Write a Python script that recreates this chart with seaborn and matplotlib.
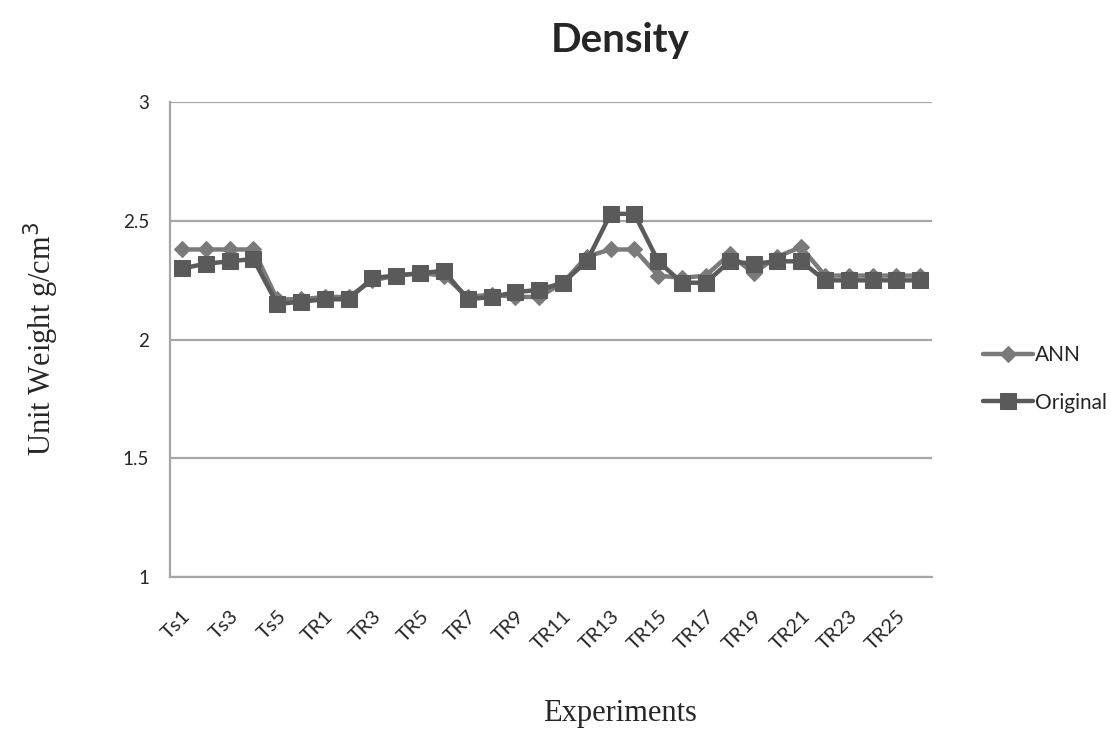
import matplotlib
matplotlib.use("Agg")
import matplotlib.pyplot as plt
import seaborn as sns
import pandas as pd

experiments = ["Ts1", "Ts2", "Ts3", "Ts4", "Ts5", "Ts6"] + [f"TR{i}" for i in range(1, 27)]
ann = [2.38, 2.38, 2.38, 2.38, 2.17, 2.17, 2.18, 2.18, 2.25, 2.27, 2.28, 2.27,
       2.18, 2.19, 2.18, 2.18, 2.24, 2.35, 2.38, 2.38, 2.27, 2.26, 2.27, 2.36,
       2.28, 2.35, 2.39, 2.27, 2.27, 2.27, 2.27, 2.27]
original = [2.30, 2.32, 2.33, 2.34, 2.15, 2.16, 2.17, 2.17, 2.26, 2.27, 2.28, 2.29,
            2.17, 2.18, 2.20, 2.21, 2.24, 2.33, 2.53, 2.53, 2.33, 2.24, 2.24, 2.33,
            2.32, 2.33, 2.33, 2.25, 2.25, 2.25, 2.25, 2.25]
series_names = ["ANN", "Original"]
y_ticks = [1, 1.5, 2, 2.5, 3]
y_tick_labels = ["1", "1.5", "2", "2.5", "3"]

df = pd.DataFrame({
    "Experiment": experiments * 2,
    "pos": list(range(len(experiments))) * 2,
    "Value": ann + original,
    "Series": [series_names[0]] * len(ann) + [series_names[1]] * len(original),
})

sns.set_style("white")
plt.rcParams["font.family"] = ["Lato", "DejaVu Sans"]

fig = plt.figure(figsize=(11.11, 7.36), dpi=100)
ax = fig.add_axes([0.153, 0.216, 0.686, 0.645])

palette = {"ANN": "#7a7a7a", "Original": "#5a5a5a"}
markers = {"ANN": "D", "Original": "s"}
sizes_ms = {"ANN": 8, "Original": 12}

for name in series_names:
    sub = df[df["Series"] == name]
    sns.lineplot(data=sub, x="pos", y="Value", ax=ax, color=palette[name],
                 marker=markers[name], markersize=sizes_ms[name],
                 markeredgecolor=palette[name], linewidth=3.2, label=name,
                 legend=False)

ax.set_xlim(-0.5, len(experiments) - 0.5)
ax.set_ylim(1, 3)
ax.set_yticks(y_ticks)
ax.set_yticklabels(y_tick_labels, fontsize=13.5)
ax.yaxis.grid(True, color="#a6a6a6", linewidth=1.6)
ax.xaxis.grid(False)
tick_pos = list(range(0, len(experiments), 2))
ax.set_xticks(tick_pos)
ax.set_xticklabels([experiments[i] for i in tick_pos], rotation=45, ha="right",
                   rotation_mode="anchor", fontsize=14.5)
ax.tick_params(axis="x", length=0, pad=22)
ax.tick_params(axis="y", length=0, pad=15)
for s in ["top", "right"]:
    ax.spines[s].set_visible(False)
ax.spines["left"].set_color("#a6a6a6")
ax.spines["left"].set_linewidth(1.6)
ax.spines["bottom"].set_color("#a6a6a6")
ax.spines["bottom"].set_linewidth(1.6)
ax.set_xlabel("")
ax.set_ylabel("")

fig.text(0.558, 0.945, "Density", ha="center", va="center", fontsize=29,
         fontweight="bold")
fig.text(0.558, 0.03, "Experiments", ha="center", va="center", fontsize=22,
         family="Liberation Serif")
fig.text(0.037, 0.54, "Unit Weight g/cm$^3$", ha="center", va="center",
         rotation=90, fontsize=22, family="Liberation Serif")

handles, labels = ax.get_legend_handles_labels()
fig.legend(handles, labels, loc="center left", bbox_to_anchor=(0.868, 0.485),
           frameon=False, fontsize=15, handlelength=2.4, handletextpad=0.1,
           labelspacing=1.3)

fig.savefig("out.png", dpi=100)
